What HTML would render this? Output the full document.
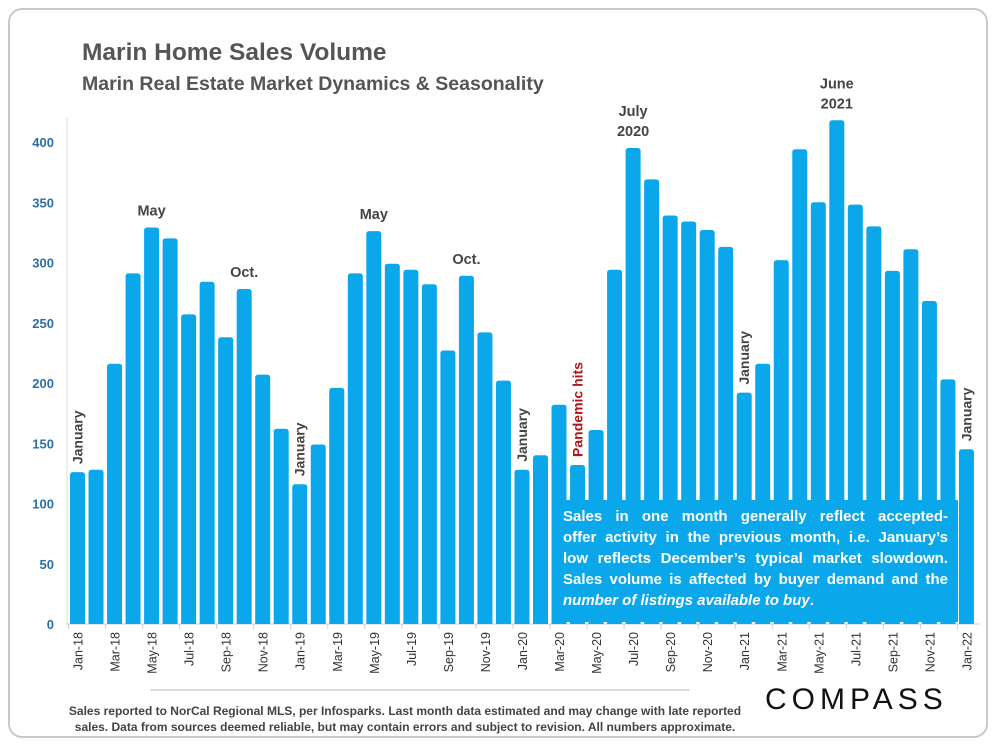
<!DOCTYPE html>
<html><head><meta charset="utf-8"><style>
body{margin:0;background:#fff;font-family:"Liberation Sans",sans-serif;}
#wrap{position:relative;width:1000px;height:750px;overflow:hidden;}
#card{position:absolute;left:8px;top:8px;width:980px;height:730px;border:2px solid #c8c8c8;border-radius:14px;box-sizing:border-box;}
h1{position:absolute;left:82px;top:39px;margin:0;font-size:24.5px;color:#555;font-weight:bold;}
h2{position:absolute;left:82px;top:73px;margin:0;font-size:19.5px;color:#555;font-weight:bold;}
#note{position:absolute;left:553px;top:500px;width:405px;height:122px;background:#0aa8ea;color:#fff;font-weight:bold;font-size:15px;letter-spacing:0;line-height:21px;padding:6px 10px;box-sizing:border-box;}
#note div{text-align:justify;text-align-last:justify;white-space:nowrap;}
#note div.last{text-align-last:left;}
#foot{position:absolute;left:60px;top:703px;width:690px;font-size:12px;color:#444;font-weight:bold;text-align:center;line-height:16px;}
#logo{position:absolute;left:765px;top:683px;font-size:30px;letter-spacing:5px;color:#111;}
</style></head><body>
<div id="wrap">
<div id="card"></div>
<h1>Marin Home Sales Volume</h1>
<h2>Marin Real Estate Market Dynamics &amp; Seasonality</h2>
<svg id="chart" width="1000" height="750" style="position:absolute;left:0;top:0"></svg>
<div id="note"><div>Sales in one month generally reflect accepted-</div><div>offer activity in the previous month, i.e. January’s</div><div>low reflects December’s typical market slowdown.</div><div>Sales volume is affected by buyer demand and the</div><div class="last"><i>number of listings available to buy</i>.</div></div>
<div id="foot">Sales reported to NorCal Regional MLS, per Infosparks. Last month data estimated and may change with late reported sales. Data from sources deemed reliable, but may contain errors and subject to revision. All numbers approximate.</div>
<div id="logo">COMPASS</div>
</div>
<script>
const months=["Jan","Feb","Mar","Apr","May","Jun","Jul","Aug","Sep","Oct","Nov","Dec"];
const categories=[];
for(let y=18;y<=22;y++)for(let m=0;m<12;m++){if(y===22&&m>0)break;categories.push(months[m]+"-"+y);}
const values=[126,128,216,291,329,320,257,284,238,278,207,162,116,149,196,291,326,299,294,282,227,289,242,202,128,140,182,132,161,294,395,369,339,334,327,313,192,216,302,394,350,418,348,330,293,311,268,203,145];
const yTicks=[0,50,100,150,200,250,300,350,400];
const annotations=[
 {i:0,text:"January",rot:true,red:false},
 {i:4,text:"May",rot:false},
 {i:9,text:"Oct.",rot:false},
 {i:12,text:"January",rot:true},
 {i:16,text:"May",rot:false},
 {i:21,text:"Oct.",rot:false},
 {i:24,text:"January",rot:true},
 {i:27,text:"Pandemic hits",rot:true,red:true},
 {i:30,text:"July|2020",rot:false},
 {i:36,text:"January",rot:true},
 {i:41,text:"June|2021",rot:false},
 {i:48,text:"January",rot:true}
];
const svg=document.getElementById('chart');
const NS="http://www.w3.org/2000/svg";
const x0=70,step=18.52,bw=15,y0=624,k=1.205;
const xPos=i=>x0+i*step;
const yPos=v=>y0-v*k;
function mk(t,a){const e=document.createElementNS(NS,t);for(const n in a)e.setAttribute(n,a[n]);svg.appendChild(e);return e;}
yTicks.forEach(t=>{
 const e=mk('text',{x:54,y:yPos(t)+5,'text-anchor':'end','font-size':13,'font-weight':'bold',fill:'#2f6ea5'});
 e.textContent=t;
 
 
});
const ax=mk('line',{x1:66,y1:y0,x2:980,y2:y0,stroke:'#ccc','stroke-width':1});


const ay=mk('line',{x1:67,y1:118,x2:67,y2:y0,stroke:'#ddd','stroke-width':1});


values.forEach((v,i)=>{
 const x=xPos(i),y=yPos(v);
 const p=mk('path',{d:`M${x},${y0}V${y+3}Q${x},${y} ${x+3},${y}H${x+bw-3}Q${x+bw},${y} ${x+bw},${y+3}V${y0}Z`,fill:'#0aa8ea'});
 
 
 if(i%2===0){
  const tk=mk('line',{x1:x-1.5,y1:y0,x2:x-1.5,y2:y0+5,stroke:'#ccc'});
  
  
  const cx=x+bw/2+5;
  const t=mk('text',{x:cx,y:632,transform:`rotate(-90 ${cx} 632)`,'text-anchor':'end','font-size':12.5,fill:'#333'});
  t.textContent=categories[i];
  
  
 }
});
annotations.forEach(a=>{
 const cx=xPos(a.i)+bw/2, top=yPos(values[a.i]);
 const col=a.red?'#b0151d':'#444';
 if(a.rot){
  const ax2=cx+5,ay2=top-8;
  const t=mk('text',{x:ax2,y:ay2,transform:`rotate(-90 ${ax2} ${ay2})`,'font-size':14,'font-weight':'bold',fill:col});
  t.textContent=a.text;
  
  
 }else{
  const lines=a.text.split('|');
  lines.forEach((l,j)=>{
   const t=mk('text',{x:cx,y:top-12-(lines.length-1-j)*20,'text-anchor':'middle','font-size':14.5,'font-weight':'bold',fill:col});
   t.textContent=l;
   
   
  });
 }
});
const sep=mk('line',{x1:150,y1:690,x2:690,y2:690,stroke:'#bbb','stroke-width':1});


</script>
</body></html>
